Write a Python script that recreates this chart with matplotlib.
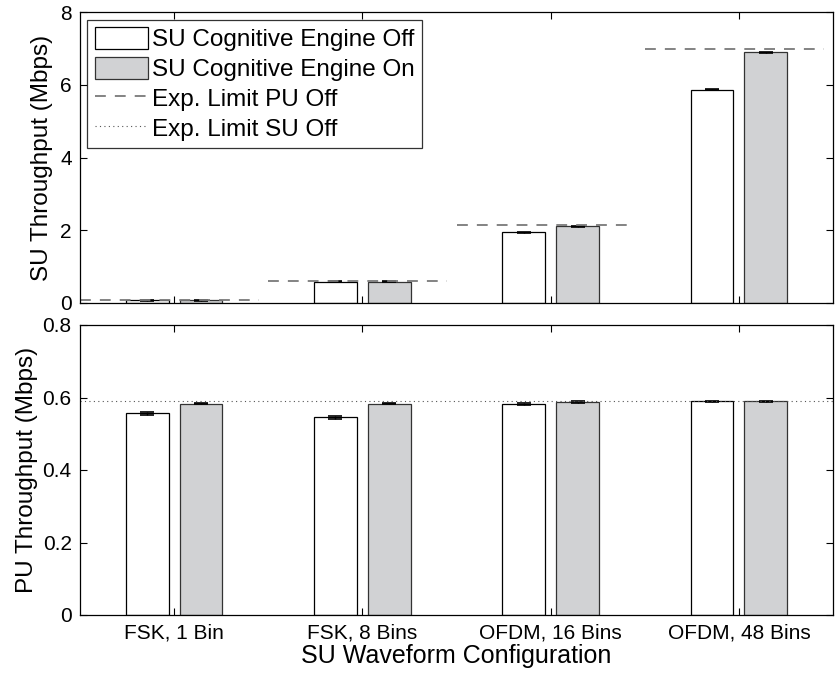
# SU / PU throughput bars, two stacked panels

import numpy as np
import matplotlib.pyplot as plt

plt.rcParams['font.family'] = ['Liberation Sans', 'DejaVu Sans']

configs = ['FSK, 1 Bin', 'FSK, 8 Bins', 'OFDM, 16 Bins', 'OFDM, 48 Bins']

# top panel: SU throughput (Mbps)
su_ce_off = [0.07, 0.58, 1.94, 5.87]
su_ce_on = [0.07, 0.58, 2.10, 6.90]
su_ce_off_err = [0.01, 0.01, 0.02, 0.02]
su_ce_on_err = [0.01, 0.01, 0.02, 0.02]
limit_pu_off = [0.08, 0.59, 2.15, 6.98]

# bottom panel: PU throughput (Mbps)
pu_ce_off = [0.556, 0.545, 0.582, 0.589]
pu_ce_on = [0.583, 0.583, 0.588, 0.589]
pu_ce_off_err = [0.003, 0.003, 0.002, 0.002]
pu_ce_on_err = [0.002, 0.002, 0.002, 0.002]
limit_su_off = 0.59

x = np.arange(1, len(configs) + 1)
w = 0.227
off = 0.143
gray = '#d1d2d4'

fig = plt.figure(figsize=(8.35, 6.75), dpi=100)
ax1 = fig.add_axes([80/835, 1 - 302.7/675, 753/835, 290.4/675])
ax2 = fig.add_axes([80/835, 1 - 615/675, 753/835, 290/675])

ekw = dict(ecolor='black', elinewidth=1, capsize=5, capthick=1.2)

b1 = ax1.bar(x - off, su_ce_off, w, color='white', edgecolor='black', linewidth=0.9,
             yerr=su_ce_off_err, error_kw=ekw)
b2 = ax1.bar(x + off, su_ce_on, w, color=gray, edgecolor='#333333', linewidth=0.9,
             yerr=su_ce_on_err, error_kw=ekw)
for i, v in enumerate(limit_pu_off):
    dash, = ax1.plot([x[i] - 0.5, x[i] + 0.45], [v, v], color='#7a7a7a', lw=1.3,
                     dashes=(6, 5))
# dotted legend entry (line itself lives in the bottom panel)
dot, = ax1.plot([], [], color='#555555', lw=0.8, linestyle=(0, (1, 3)))

ax2.bar(x - off, pu_ce_off, w, color='white', edgecolor='black', linewidth=0.9,
        yerr=pu_ce_off_err, error_kw=ekw)
ax2.bar(x + off, pu_ce_on, w, color=gray, edgecolor='#333333', linewidth=0.9,
        yerr=pu_ce_on_err, error_kw=ekw)
ax2.axhline(limit_su_off, color='#555555', lw=0.8, linestyle=(0, (1, 3)))

for ax in (ax1, ax2):
    ax.set_xlim(0.5, 4.5)
    ax.set_xticks(x)
    ax.tick_params(direction='in', length=5, top=True, right=True, labelsize=15,
                   width=0.8, pad=6)
    for s in ax.spines.values():
        s.set_linewidth(0.9)

ax1.set_ylim(0, 8)
ax1.set_yticks([0, 2, 4, 6, 8])
ax1.set_xticklabels([])
ax1.set_ylabel('SU Throughput (Mbps)', fontsize=17.5, labelpad=5)

ax2.set_ylim(0, 0.8)
ax2.set_yticks([0, 0.2, 0.4, 0.6, 0.8])
ax2.set_yticklabels(['0', '0.2', '0.4', '0.6', '0.8'])
ax2.set_xticklabels(configs)
ax2.set_ylabel('PU Throughput (Mbps)', fontsize=17.5, labelpad=3)
ax2.set_xlabel('SU Waveform Configuration', fontsize=18, labelpad=1)

leg = ax1.legend([b1, b2, dash, dot],
                 ['SU Cognitive Engine Off', 'SU Cognitive Engine On',
                  'Exp. Limit PU Off', 'Exp. Limit SU Off'],
                 loc='upper left', fontsize=17.5, frameon=True, fancybox=False,
                 edgecolor='black', borderaxespad=0.3, handlelength=2.2,
                 handleheight=1.05, handletextpad=0.15, labelspacing=0.22,
                 borderpad=0.3)
leg.get_frame().set_linewidth(0.9)

fig.savefig('out.png', dpi=100)
